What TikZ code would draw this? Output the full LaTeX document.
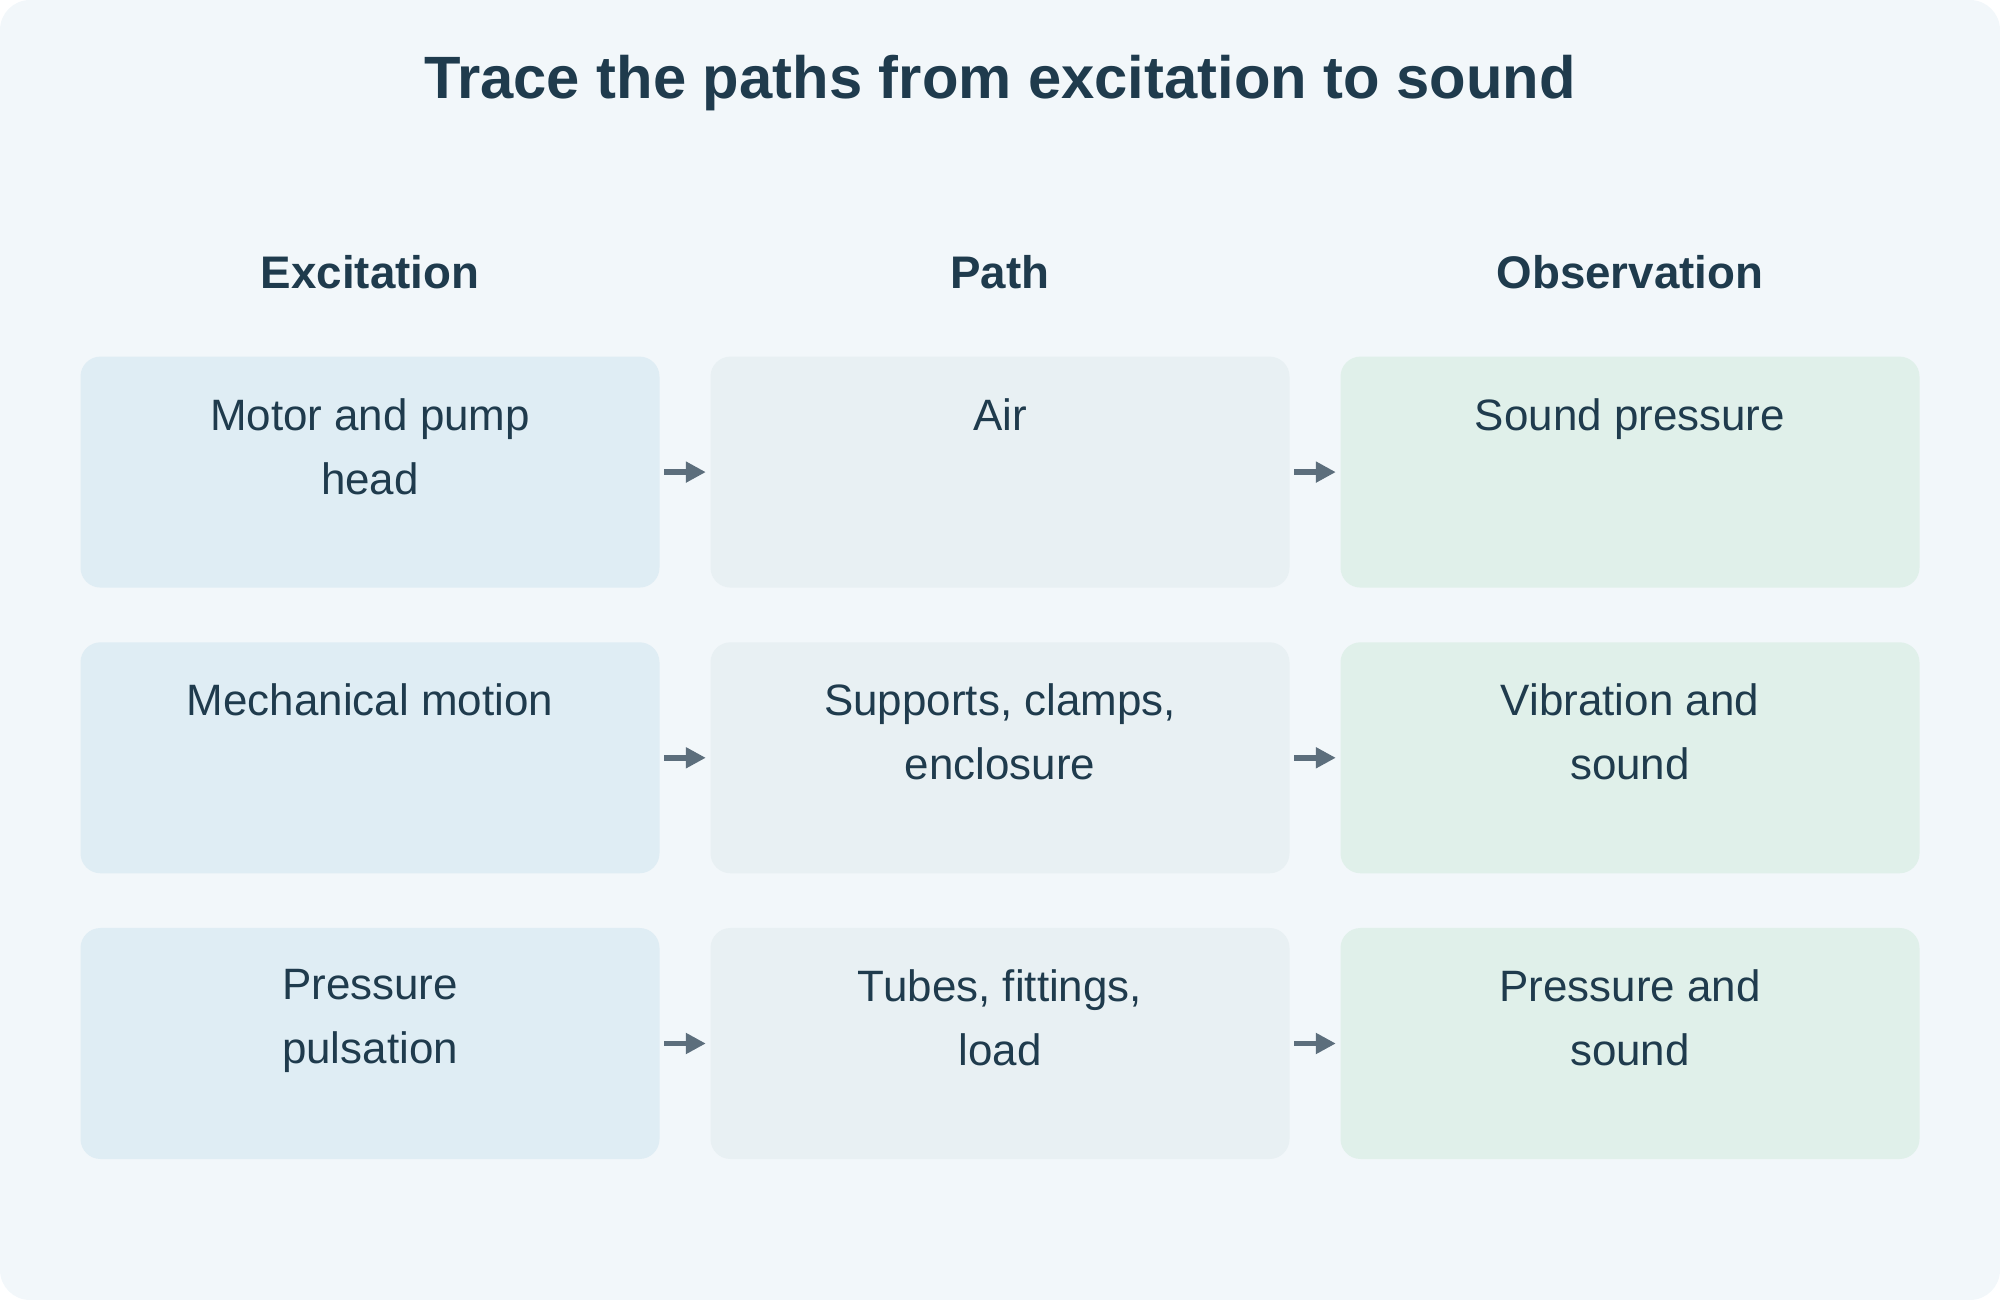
\documentclass[tikz,border=0pt]{standalone}
\usepackage{fontspec}
\setmainfont{Liberation Sans}
\usetikzlibrary{arrows.meta}
\definecolor{bgcol}{HTML}{F2F7FA}
\definecolor{txtcol}{HTML}{1F3B4D}
\definecolor{exccol}{HTML}{DFEDF4}
\definecolor{pathcol}{HTML}{E8F0F3}
\definecolor{obscol}{HTML}{E0F0EA}
\definecolor{arrcol}{HTML}{5C6E7C}
\begin{document}
\begin{tikzpicture}[
    box/.style={rounded corners=0.2cm, minimum width=5.79cm, minimum height=2.31cm,
        anchor=north, inner sep=0pt,
        label={[anchor=north, yshift=-0.3cm, align=center, font=\fontsize{12.5}{18.2}\selectfont, text=txtcol]north:{#1}}},
    head/.style={font=\fontsize{13}{16}\selectfont\bfseries, text=txtcol},
    flow/.style={-{Triangle[length=0.2cm,width=0.2cm]}, line width=1.6pt, draw=arrcol,
        shorten <=0.04cm, shorten >=0.04cm}]

    \fill[bgcol, rounded corners=0.3cm] (0,0) rectangle (20,-13);
    \useasboundingbox (0,0) rectangle (20,-13);

    \node[font=\fontsize{17}{20}\selectfont\bfseries, text=txtcol] (title) at (10,-0.83) {Trace the paths from excitation to sound};

    \node[head] (hexc) at (3.70,-2.717) {Excitation};
    \node[head] (hpath) at (10.0,-2.717) {Path};
    \node[head] (hobs) at (16.30,-2.717) {Observation};

    % row 1
    \node[box={Motor and pump\\head}, fill=exccol] (e1) at (3.70,-3.559) {};
    \node[box={Air}, fill=pathcol] (p1) at (10.0,-3.559) {};
    \node[box={Sound pressure}, fill=obscol] (o1) at (16.30,-3.559) {};
    % row 2
    \node[box={Mechanical motion}, fill=exccol] (e2) at (3.70,-6.416) {};
    \node[box={Supports, clamps,\\enclosure}, fill=pathcol] (p2) at (10.0,-6.416) {};
    \node[box={Vibration and\\sound}, fill=obscol] (o2) at (16.30,-6.416) {};
    % row 3
    \node[box={Pressure\\pulsation}, fill=exccol] (e3) at (3.70,-9.273) {};
    \node[box={Tubes, fittings,\\load}, fill=pathcol] (p3) at (10.0,-9.273) {};
    \node[box={Pressure and\\sound}, fill=obscol] (o3) at (16.30,-9.273) {};

    \foreach \r in {1,2,3} {
        \draw[flow] (e\r.east) -- (p\r.west);
        \draw[flow] (p\r.east) -- (o\r.west);
    }

\end{tikzpicture}
\end{document}
